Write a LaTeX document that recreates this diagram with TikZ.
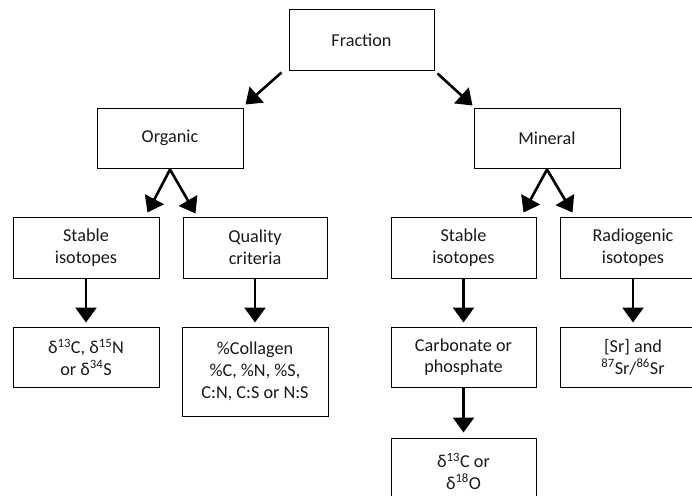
\documentclass[tikz,border=0pt]{standalone}
\usepackage{fontspec}
\setmainfont{Carlito}
\usetikzlibrary{arrows.meta,calc}

\tikzset{
  box/.style={draw=black, line width=1pt, inner sep=0pt, align=center,
    minimum width=146pt, minimum height=60pt,
    font=\fontsize{18.2}{21.7}\selectfont, text=black!90},
  arr/.style={draw=black, line width=2.6pt,
    -{Triangle[length=15pt,width=21pt]}},
}

\begin{document}
\begin{tikzpicture}[x=1pt, y=-1pt]
  \useasboundingbox (0,0) rectangle (692,495);
  \clip (0,0) rectangle (692,495);

  % top level
  \node[box, minimum width=145pt] (frac) at (361.5,40) {Fraction};

  % fractions
  \node[box] (org) at (170,138) {Organic};
  \node[box] (min) at (547,138) {Mineral};

  % analyses
  \node[box, minimum height=61pt] (st1)  at (86,247.5)  {Stable\\isotopes};
  \node[box, minimum width=144pt, minimum height=61pt] (qual) at (255,247.5) {Quality\\criteria};
  \node[box, minimum width=145pt, minimum height=61pt] (st2)  at (463.5,247.5) {Stable\\isotopes};
  \node[box, minimum height=61pt] (rad)  at (633,247.5) {Radiogenic\\isotopes};

  % measured quantities
  \node[box] (d1) at (86,357) {δ\textsuperscript{13}C, δ\textsuperscript{15}N\\or δ\textsuperscript{34}S};
  \node[box, minimum height=89pt] (coll) at (255,371.5) {\%Collagen\\\%C, \%N, \%S,\\C:N, C:S or N:S};
  \node[box, minimum width=145pt] (carb) at (463.5,357) {Carbonate or\\phosphate};
  \node[box] (sr) at (633,357) {[Sr] and\\\textsuperscript{87}Sr/\textsuperscript{86}Sr};
  \node[box, minimum width=145pt, minimum height=66pt] (d2) at (463.5,471) {δ\textsuperscript{13}C or\\δ\textsuperscript{18}O};

  % connectors
  \draw[arr] ($(frac.south west)+(-7,2)$) -- ($(org.north east)+(2,-3)$);
  \draw[arr] ($(frac.south east)+(3,3)$) -- ($(min.north west)+(-1,-2)$);

  \draw[arr] ($(org.south)+(0,1)$) -- ($(st1.north east)+(-12,-4)$);
  \draw[arr] ($(org.south)+(0,1)$) -- ($(qual.north west)+(13,-3)$);
  \draw[arr] ($(min.south)+(0,1)$) -- ($(st2.north east)+(-13,-4)$);
  \draw[arr] ($(min.south)+(0,1)$) -- ($(rad.north west)+(13,-4)$);

  \draw[arr, shorten >=4pt] (st1.south)  -- (d1.north);
  \draw[arr, shorten >=4pt] (qual.south) -- (coll.north);
  \draw[arr, shorten >=4pt] (st2.south)  -- (carb.north);
  \draw[arr, shorten >=4pt] (rad.south)  -- (sr.north);
  \draw[arr, shorten >=5pt] (carb.south) -- (d2.north);
\end{tikzpicture}
\end{document}
